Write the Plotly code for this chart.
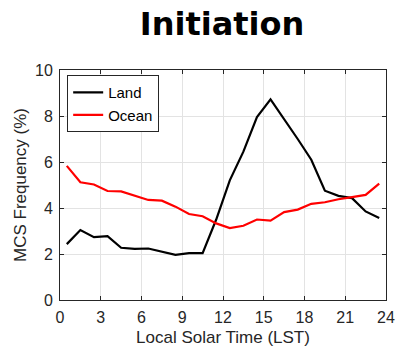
import plotly.graph_objects as go

# Hourly bins (local solar time, bin centres)
hours = [h + 0.5 for h in range(24)]

land = [2.43, 3.04, 2.73, 2.78, 2.27, 2.22, 2.24, 2.1, 1.96, 2.04, 2.04, 3.5,
        5.2, 6.45, 7.95, 8.72, 7.87, 7.0, 6.1, 4.75, 4.53, 4.43, 3.85, 3.57]
ocean = [5.83, 5.12, 5.02, 4.74, 4.72, 4.52, 4.35, 4.32, 4.06, 3.74, 3.64, 3.33,
         3.13, 3.23, 3.5, 3.45, 3.82, 3.93, 4.18, 4.25, 4.38, 4.47, 4.57, 5.06]

x_ticks = [0, 3, 6, 9, 12, 15, 18, 21, 24]
y_ticks = [0, 2, 4, 6, 8, 10]

FONT = "Liberation Sans, Arial"
INK = "#262626"

fig = go.Figure()
fig.add_trace(go.Scatter(x=hours, y=land, mode="lines", name="Land",
                         line=dict(color="black", width=2.2)))
fig.add_trace(go.Scatter(x=hours, y=ocean, mode="lines", name="Ocean",
                         line=dict(color="#ff0000", width=2.2)))

axis_common = dict(
    showline=True, linecolor=INK, linewidth=1, mirror="ticks",
    ticks="inside", ticklen=4, tickcolor=INK,
    showgrid=True, gridcolor="#e3e3e3", gridwidth=1,
    zeroline=False, ticklabeloverflow="allow",
    tickfont=dict(family=FONT, size=16, color=INK),
)

fig.update_layout(
    width=403, height=353,
    margin=dict(l=60, r=8, t=70, b=53),
    paper_bgcolor="white", plot_bgcolor="white",
    title=dict(text="<b>Initiation</b>", x=0.551, xanchor="center",
               yref="container", y=0.965, yanchor="top",
               font=dict(family="DejaVu Sans", size=32, color="black")),
    xaxis=dict(range=[0, 24], tickvals=x_ticks, ticklabelstandoff=3,
               title=dict(text="Local Solar Time (LST)", standoff=5,
                          font=dict(family=FONT, size=17, color=INK)),
               **axis_common),
    yaxis=dict(range=[0, 10], tickvals=y_ticks, ticklabelstandoff=3,
               title=dict(text="MCS Frequency (%)", standoff=4,
                          font=dict(family=FONT, size=17, color=INK)),
               **axis_common),
    legend=dict(x=0.022, y=0.978, xanchor="left", yanchor="top",
                bgcolor="white", bordercolor=INK, borderwidth=1,
                font=dict(family=FONT, size=15, color="black"),
                tracegroupgap=0, itemwidth=30),
    showlegend=True,
)

fig.write_html("out.html")
